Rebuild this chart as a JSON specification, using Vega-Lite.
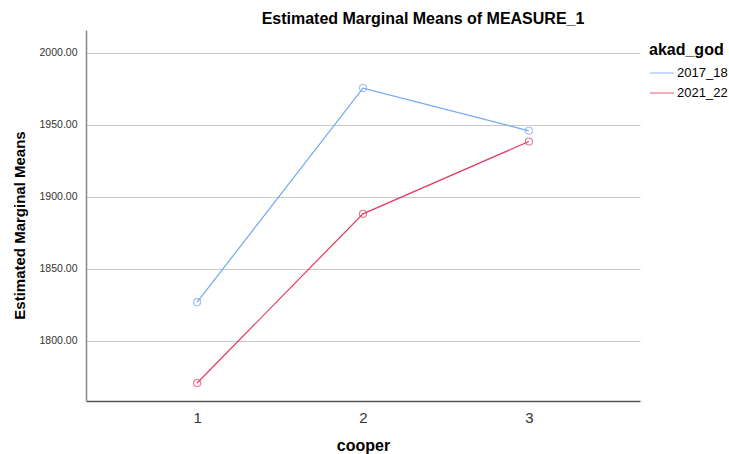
{
  "$schema": "https://vega.github.io/schema/vega-lite/v6.json",
  "autosize": {"type": "none"},
  "width": 554,
  "height": 371,
  "padding": {"left": 86, "top": 30, "right": 89, "bottom": 53},
  "background": "white",
  "title": {
    "text": "Estimated Marginal Means of MEASURE_1",
    "font": "Liberation Sans",
    "fontSize": 16,
    "fontWeight": "bold",
    "color": "#000000",
    "anchor": "middle",
    "dx": 60,
    "offset": 3
  },
  "data": {
    "values": [
      {"cooper": "1", "akad_god": "2017_18", "mean": 1826.9},
      {"cooper": "2", "akad_god": "2017_18", "mean": 1975.5},
      {"cooper": "3", "akad_god": "2017_18", "mean": 1945.8},
      {"cooper": "1", "akad_god": "2021_22", "mean": 1770.8},
      {"cooper": "2", "akad_god": "2021_22", "mean": 1888.2},
      {"cooper": "3", "akad_god": "2021_22", "mean": 1938.4}
    ]
  },
  "config": {
    "view": {"stroke": null},
    "font": "Liberation Sans"
  },
  "encoding": {
    "x": {
      "field": "cooper",
      "type": "ordinal",
      "scale": {"type": "point", "padding": 0.67},
      "axis": {
        "title": "cooper",
        "labelAngle": 0,
        "labelFontSize": 15,
        "labelColor": "#333333",
        "labelPadding": 9,
        "ticks": false,
        "grid": false,
        "domainColor": "#555555",
        "domainWidth": 1.5,
        "titleFontSize": 16,
        "titleFontWeight": "bold",
        "titleColor": "#000000",
        "titleBaseline": "top",
        "titleY": 36
      }
    },
    "y": {
      "field": "mean",
      "type": "quantitative",
      "scale": {"domain": [1758.3, 2015.8], "nice": false, "zero": false},
      "axis": {
        "title": "Estimated Marginal Means",
        "values": [1800, 1850, 1900, 1950, 2000],
        "format": ".2f",
        "labelFontSize": 10.5,
        "labelColor": "#333333",
        "labelPadding": 9,
        "ticks": false,
        "grid": true,
        "gridColor": "#c8c8c8",
        "gridWidth": 1.2,
        "domainColor": "#888888",
        "domainWidth": 1.5,
        "titleFontSize": 15,
        "titleFontWeight": "bold",
        "titleColor": "#000000",
        "titleX": -59,
        "titleY": 195
      }
    },
    "color": {
      "field": "akad_god",
      "type": "nominal",
      "scale": {"domain": ["2017_18", "2021_22"], "range": ["#75a8ee", "#e23a5e"]},
      "legend": {
        "title": "akad_god",
        "orient": "none",
        "legendX": 563,
        "legendY": 12,
        "titleFontSize": 16,
        "titleFontWeight": "bold",
        "titleColor": "#000000",
        "labelFontSize": 13,
        "labelColor": "#000000",
        "symbolType": "stroke",
        "symbolSize": 576,
        "symbolStrokeWidth": 1.2,
        "labelOffset": 2,
        "rowPadding": -7,
        "titlePadding": 2
      }
    }
  },
  "layer": [
    {"mark": {"type": "line", "strokeWidth": 1.2}},
    {"mark": {"type": "point", "filled": false, "size": 50, "strokeWidth": 1.1}}
  ]
}
